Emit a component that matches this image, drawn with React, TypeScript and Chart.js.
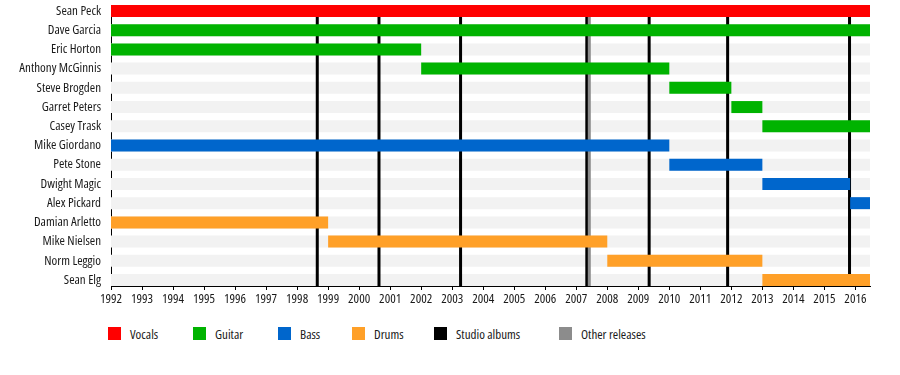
import React, { useEffect, useRef } from 'react';
import { Chart, registerables } from 'chart.js';

Chart.register(...registerables);

// ---- data ----
const MEMBERS = [
  'Sean Peck',
  'Dave Garcia',
  'Eric Horton',
  'Anthony McGinnis',
  'Steve Brogden',
  'Garret Peters',
  'Casey Trask',
  'Mike Giordano',
  'Pete Stone',
  'Dwight Magic',
  'Alex Pickard',
  'Damian Arletto',
  'Mike Nielsen',
  'Norm Leggio',
  'Sean Elg',
];

const TIMELINE_START = 1992;
const TIMELINE_END = 2016.47;

const YEAR_TICKS = [
  1992, 1993, 1994, 1995, 1996, 1997, 1998, 1999, 2000, 2001, 2002, 2003,
  2004, 2005, 2006, 2007, 2008, 2009, 2010, 2011, 2012, 2013, 2014, 2015, 2016,
];

// [member, from, to]
const VOCALS: [string, number, number][] = [['Sean Peck', 1992, TIMELINE_END]];
const GUITAR: [string, number, number][] = [
  ['Dave Garcia', 1992, TIMELINE_END],
  ['Eric Horton', 1992, 2002],
  ['Anthony McGinnis', 2002, 2010],
  ['Steve Brogden', 2010, 2012],
  ['Garret Peters', 2012, 2013],
  ['Casey Trask', 2013, TIMELINE_END],
];
const BASS: [string, number, number][] = [
  ['Mike Giordano', 1992, 2010],
  ['Pete Stone', 2010, 2013],
  ['Dwight Magic', 2013, 2015.83],
  ['Alex Pickard', 2015.83, TIMELINE_END],
];
const DRUMS: [string, number, number][] = [
  ['Damian Arletto', 1992, 1999],
  ['Mike Nielsen', 1999, 2008],
  ['Norm Leggio', 2008, 2013],
  ['Sean Elg', 2013, TIMELINE_END],
];

const STUDIO_ALBUMS = [1998.65, 2000.64, 2003.27, 2007.34, 2009.35, 2011.88, 2015.81];
const OTHER_RELEASES = [2007.42];

const LEGEND_LABELS = ['Vocals', 'Guitar', 'Bass', 'Drums', 'Studio albums', 'Other releases'];

// ---- styles ----
const COLORS = {
  vocals: '#ff0000',
  guitar: '#00b300',
  bass: '#0066cc',
  drums: '#ffa028',
  studio: '#000000',
  other: '#8c8c8c',
  band: '#f2f2f2',
};
const LEGEND_COLORS = [COLORS.vocals, COLORS.guitar, COLORS.bass, COLORS.drums, COLORS.studio, COLORS.other];
const LEGEND_LEFT = [108, 193, 278, 352, 434, 559];
const FONT = "'Open Sans', 'Liberation Sans', Arial, sans-serif";
const FONT_SIZE = 13;
const TEXT_COLOR = '#1a1a1a';
const Y_MIN = -0.31;
const Y_MAX = 14.31;
const BAR_H = 12;

function toBars(rows: [string, number, number][]) {
  return rows.map(([m, a, b]) => ({ x: [a, b], y: MEMBERS.indexOf(m) }));
}

export default function App() {
  const ref = useRef<HTMLCanvasElement | null>(null);

  useEffect(() => {
    if (!ref.current) return;
    const barDs = (label: string, rows: [string, number, number][], color: string, order: number) => ({
      type: 'bar' as const,
      label,
      data: toBars(rows),
      backgroundColor: color,
      borderWidth: 0,
      barThickness: BAR_H,
      grouped: false,
      inflateAmount: 0,
      order,
    });
    const lineDs = (date: number, color: string, order: number) => ({
      type: 'line' as const,
      data: [
        { x: date, y: Y_MIN },
        { x: date, y: Y_MAX },
      ],
      borderColor: color,
      borderWidth: 3,
      pointRadius: 0,
      fill: false,
      order,
    });

    const datasets: any[] = [
      barDs('Vocals', VOCALS, COLORS.vocals, 0),
      barDs('Guitar', GUITAR, COLORS.guitar, 0),
      barDs('Bass', BASS, COLORS.bass, 0),
      barDs('Drums', DRUMS, COLORS.drums, 0),
      ...OTHER_RELEASES.map((d) => lineDs(d, COLORS.other, 2)),
      ...STUDIO_ALBUMS.map((d) => lineDs(d, COLORS.studio, 3)),
      barDs(
        'bands',
        MEMBERS.map((m) => [m, TIMELINE_START, TIMELINE_END] as [string, number, number]),
        COLORS.band,
        5
      ),
    ];

    const tickFont = { family: FONT, size: FONT_SIZE, weight: 'condensed' };

    const chart = new Chart(ref.current, {
      type: 'bar',
      data: { datasets },
      options: {
        indexAxis: 'y',
        animation: false,
        responsive: false,
        events: [],
        layout: { padding: { left: 0, right: 30, top: 5, bottom: 0 } },
        plugins: { legend: { display: false }, tooltip: { enabled: false } },
        scales: {
          x: {
            type: 'linear',
            position: 'bottom',
            offset: false,
            min: TIMELINE_START,
            max: TIMELINE_END,
            afterBuildTicks: (s: any) => {
              s.ticks = YEAR_TICKS.map((v) => ({ value: v }));
            },
            afterFit: (s: any) => {
              s.height = 24;
              s.paddingLeft = 0;
              s.paddingRight = 0;
            },
            grid: { drawOnChartArea: false, drawTicks: true, tickLength: 4, color: '#000', offset: false },
            border: { display: true, color: '#000', width: 1 },
            ticks: {
              autoSkip: false,
              maxRotation: 0,
              padding: 1,
              color: TEXT_COLOR,
              font: tickFont,
              callback: (v: any) => String(v),
            },
          },
          y: {
            type: 'linear',
            reverse: true,
            offset: false,
            min: Y_MIN,
            max: Y_MAX,
            afterBuildTicks: (s: any) => {
              s.ticks = MEMBERS.map((_, i) => ({ value: i }));
            },
            afterFit: (s: any) => {
              s.width = 111;
              s.paddingTop = 0;
              s.paddingBottom = 0;
            },
            grid: { display: false, drawTicks: false, offset: false },
            border: { display: true, color: '#000', width: 1 },
            ticks: {
              autoSkip: false,
              padding: 10,
              color: TEXT_COLOR,
              font: tickFont,
              callback: (v: any) => MEMBERS[v] ?? '',
            },
          },
        },
      } as any,
    });
    return () => chart.destroy();
  }, []);

  return (
    <div style={{ position: 'absolute', left: 0, top: 0, width: 900, height: 375, background: '#fff' }}>
      <canvas ref={ref} width={900} height={310} style={{ display: 'block', width: 900, height: 310 }} />
      {LEGEND_LABELS.map((label, i) => (
        <div
          key={label}
          style={{
            position: 'absolute',
            left: LEGEND_LEFT[i],
            top: 327,
            height: 13,
            display: 'flex',
            alignItems: 'center',
            fontFamily: FONT,
            fontStretch: 'condensed',
            fontSize: FONT_SIZE,
            color: TEXT_COLOR,
            whiteSpace: 'nowrap',
          }}
        >
          <span style={{ display: 'inline-block', width: 13, height: 13, background: LEGEND_COLORS[i], marginRight: 9 }} />
          <span>{label}</span>
        </div>
      ))}
    </div>
  );
}
